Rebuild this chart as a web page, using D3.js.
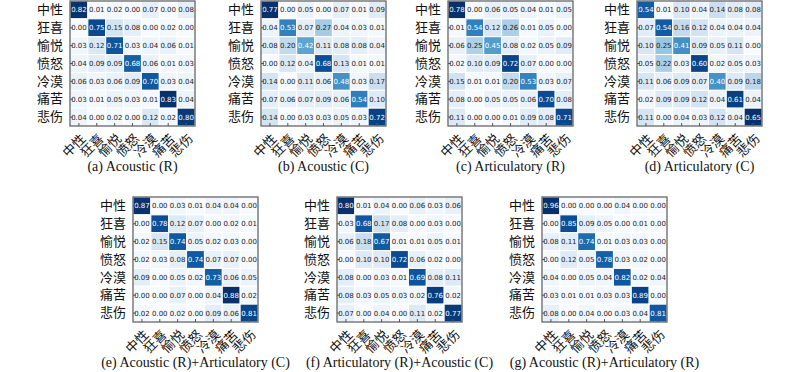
<!DOCTYPE html>
<html><head><meta charset="utf-8">
<script src="https://cdn.jsdelivr.net/npm/d3@7"></script>
<style>body{margin:0;background:#fff}svg{display:block}</style>
</head><body>
<svg id="c" width="800" height="372"></svg>
<script>
const emotions = ["中性","狂喜","愉悦","愤怒","冷漠","痛苦","悲伤"];
const captions = ["(a) Acoustic (R)","(b) Acoustic (C)","(c) Articulatory (R)","(d) Articulatory (C)",
  "(e) Acoustic (R)+Articulatory (C)","(f) Articulatory (R)+Acoustic (C)","(g) Acoustic (R)+Articulatory (R)"];
const matA = [
 [0.82,0.01,0.02,0.00,0.07,0.00,0.08],
 [0.00,0.75,0.15,0.08,0.00,0.02,0.00],
 [0.03,0.12,0.71,0.03,0.04,0.06,0.01],
 [0.04,0.09,0.09,0.68,0.06,0.01,0.03],
 [0.06,0.03,0.06,0.09,0.70,0.03,0.04],
 [0.03,0.01,0.05,0.03,0.01,0.83,0.04],
 [0.04,0.00,0.02,0.00,0.12,0.02,0.80]];
const matB = [
 [0.77,0.00,0.05,0.00,0.07,0.01,0.09],
 [0.04,0.53,0.07,0.27,0.04,0.03,0.01],
 [0.08,0.20,0.42,0.11,0.08,0.08,0.04],
 [0.00,0.12,0.04,0.68,0.13,0.01,0.01],
 [0.14,0.00,0.11,0.06,0.48,0.03,0.17],
 [0.07,0.06,0.07,0.09,0.06,0.54,0.10],
 [0.14,0.00,0.03,0.03,0.05,0.03,0.72]];
const matC = [
 [0.78,0.00,0.06,0.05,0.04,0.01,0.05],
 [0.01,0.54,0.12,0.26,0.01,0.05,0.00],
 [0.06,0.25,0.45,0.08,0.02,0.05,0.09],
 [0.02,0.10,0.09,0.72,0.07,0.00,0.00],
 [0.15,0.01,0.01,0.20,0.53,0.03,0.07],
 [0.08,0.00,0.05,0.05,0.06,0.70,0.08],
 [0.11,0.00,0.00,0.01,0.09,0.08,0.71]];
const matD = [
 [0.54,0.01,0.10,0.04,0.14,0.08,0.08],
 [0.07,0.54,0.16,0.12,0.04,0.04,0.04],
 [0.10,0.25,0.41,0.09,0.05,0.11,0.00],
 [0.05,0.22,0.03,0.60,0.02,0.05,0.03],
 [0.11,0.06,0.09,0.07,0.40,0.09,0.18],
 [0.02,0.09,0.09,0.12,0.04,0.61,0.04],
 [0.11,0.00,0.04,0.03,0.12,0.04,0.65]];
const matE = [
 [0.87,0.00,0.03,0.01,0.04,0.04,0.00],
 [0.00,0.78,0.12,0.07,0.00,0.02,0.01],
 [0.02,0.15,0.74,0.05,0.02,0.03,0.00],
 [0.02,0.03,0.08,0.74,0.07,0.07,0.00],
 [0.09,0.00,0.05,0.02,0.73,0.06,0.05],
 [0.00,0.00,0.07,0.00,0.04,0.88,0.02],
 [0.02,0.00,0.02,0.00,0.09,0.06,0.81]];
const matF = [
 [0.80,0.01,0.04,0.00,0.06,0.03,0.06],
 [0.03,0.68,0.17,0.08,0.00,0.03,0.00],
 [0.06,0.18,0.67,0.01,0.01,0.05,0.01],
 [0.00,0.10,0.10,0.72,0.06,0.02,0.00],
 [0.08,0.00,0.03,0.01,0.69,0.08,0.11],
 [0.08,0.03,0.05,0.03,0.02,0.76,0.02],
 [0.07,0.00,0.04,0.00,0.11,0.02,0.77]];
const matG = [
 [0.96,0.00,0.00,0.00,0.04,0.00,0.00],
 [0.00,0.85,0.09,0.05,0.00,0.01,0.00],
 [0.08,0.11,0.74,0.01,0.03,0.03,0.00],
 [0.00,0.12,0.05,0.78,0.03,0.02,0.00],
 [0.04,0.00,0.05,0.04,0.82,0.02,0.04],
 [0.03,0.01,0.01,0.03,0.03,0.89,0.00],
 [0.08,0.00,0.04,0.00,0.03,0.04,0.81]];
const matrices = [matA,matB,matC,matD,matE,matF,matG];

const positions = [[70,1],[261,1],[448,1],[637,1],[133,197],[337,197],[542,197]];
const S = 125;
const svg = d3.select("#c");
const cjk = "'Noto Sans CJK SC', sans-serif";

matrices.forEach((m, k) => {
  const [x0, y0] = positions[k];
  const g = svg.append("g").attr("transform", `translate(${x0},${y0})`);
  const x = d3.scaleBand().domain(d3.range(7)).range([0, S]);
  const y = d3.scaleBand().domain(d3.range(7)).range([0, S]);
  const mx = d3.max(m.flat());
  const color = d3.scaleSequential(d3.interpolateBlues).domain([0, mx]);
  const cells = [];
  m.forEach((row, i) => row.forEach((v, j) => cells.push({i, j, v})));
  g.selectAll("rect.cell").data(cells).join("rect").attr("class","cell")
    .attr("x", d => x(d.j)).attr("y", d => y(d.i))
    .attr("width", x.bandwidth()).attr("height", y.bandwidth())
    .attr("fill", d => color(d.v)).attr("stroke", "#fff").attr("stroke-width", 1);
  g.selectAll("text.val").data(cells).join("text").attr("class","val")
    .attr("x", d => x(d.j) + x.bandwidth()/2).attr("y", d => y(d.i) + y.bandwidth()/2)
    .attr("dy", "0.35em").attr("text-anchor", "middle")
    .attr("font-family", "'DejaVu Sans', sans-serif").attr("font-size", 7)
    .attr("fill", d => d.v > mx/2 ? "#fff" : "#222")
    .text(d => d.v.toFixed(2));
  g.append("rect").attr("x",0).attr("y",0).attr("width",S).attr("height",S)
    .attr("fill","none").attr("stroke","#666").attr("stroke-width",1.3);

  const ya = d3.axisLeft(y).tickSize(-3).tickPadding(7).tickFormat(i => emotions[i]);
  const yg = g.append("g").call(ya);
  yg.select(".domain").remove();
  yg.selectAll("line").attr("stroke","#555");
  yg.selectAll("text").attr("font-family", cjk).attr("font-size", 13).attr("fill","#111");

  const xa = d3.axisBottom(x).tickSize(-3).tickPadding(3).tickFormat(i => emotions[i]);
  const xg = g.append("g").attr("transform", `translate(0,${S})`).call(xa);
  xg.select(".domain").remove();
  xg.selectAll("line").attr("stroke","#555");
  xg.selectAll("text").attr("font-family", cjk).attr("font-size", 13).attr("fill","#111")
    .attr("text-anchor","end").attr("dy","0.7em")
    .attr("transform","translate(-1,5) rotate(-45)");

  g.append("text").attr("x", S/2).attr("y", S + 45)
    .attr("text-anchor","middle").attr("font-family","'Liberation Serif', serif")
    .attr("font-size", 14).attr("fill","#111").text(captions[k]);
});
</script>
</body></html>
